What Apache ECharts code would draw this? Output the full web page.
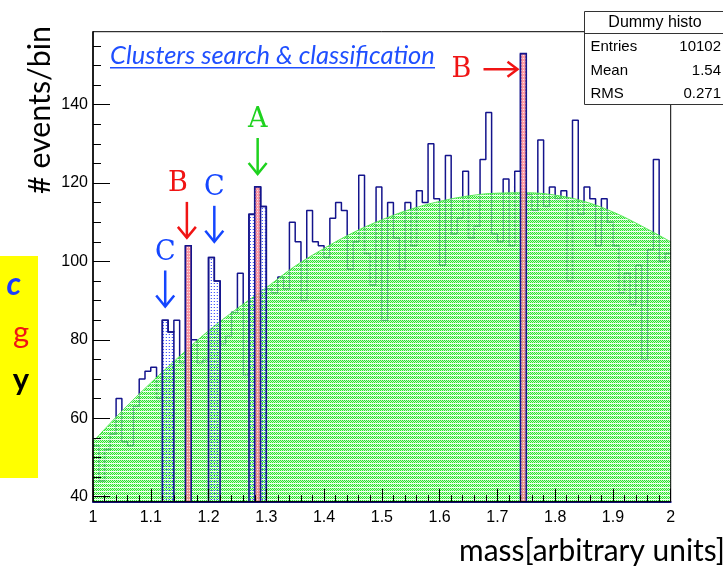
<!DOCTYPE html>
<html>
<head>
<meta charset="utf-8">
<script src="https://cdn.jsdelivr.net/npm/echarts@6/dist/echarts.min.js"></script>
<style>
  html, body { margin: 0; padding: 0; background: #ffffff; }
  #chart { width: 723px; height: 567px; }
</style>
</head>
<body>
<div id="chart"></div>
<script>
// ---- histogram: 100 bins of width 0.01 on [1, 2] ----
const binStart = 1.0;
const binWidth = 0.01;
const counts = [
  53, 44, 52, 56, 65, 54, 53, 63, 70, 72,
  73, 65, 85, 82, 85, 74, 104, 80, 74, 75,
  101, 95, 79, 81, 87, 97, 71, 112, 119, 114,
  93, 92, 96, 93, 110, 105, 90, 113, 105, 104,
  101, 111, 115, 113, 98, 105, 122, 102, 94, 119,
  85, 115, 106, 98, 115, 104, 118, 115, 130, 116,
  99, 127, 107, 111, 123, 106, 109, 126, 138, 107,
  105, 121, 104, 123, 153, 117, 113, 131, 114, 119,
  116, 118, 95, 136, 112, 119, 116, 104, 116, 110,
  104, 92, 97, 89, 99, 75, 103, 126, 100, 102
];

// ---- smooth background shape, sampled every 0.05 ----
const bgX = [1.00, 1.05, 1.10, 1.15, 1.20, 1.25, 1.30, 1.35, 1.40, 1.45, 1.50,
             1.55, 1.60, 1.65, 1.70, 1.75, 1.80, 1.85, 1.90, 1.95, 2.00];
const bgY = [54, 61.8, 69, 75.8, 82.3, 88, 93.3, 98.8, 103.3, 107.3, 110.6,
             113.3, 115.3, 116.7, 117.4, 117.5, 116.9, 115.3, 112.6, 109, 105];

// ---- axis ticks ----
const yTickValues = [40, 60, 80, 100, 120, 140];
const yMinorValues = [45, 50, 55, 65, 70, 75, 85, 90, 95, 105, 110, 115, 125, 130, 135, 145, 150, 155];

// ---- highlighted bins ----
const clusterBins = [[12, 13], [20, 21], [27, 29]];   // first and last bin of each cluster
const spikeBins = [16, 28, 74];

// ---- annotations (data coordinates of the arrow tips) ----
const annoLetters = ['C', 'B', 'C', 'A'];
const annoX = [1.125, 1.1625, 1.21, 1.285];
const annoTip = [88.5, 106, 105, 122.3];
const sideLetter = 'B';
const sideBin = 74;
const sideY = 149;

// ---- statistics box ----
const statTitle = 'Dummy histo';
const statNames = ['Entries', 'Mean', 'RMS'];
const statValues = ['10102', '1.54', '0.271'];

const titleText = 'Clusters search & classification';
const yTitle = '# events/bin';
const xTitle = 'mass[arbitrary units]';
const sideWords = ['c', 'g', 'y'];

// ---------------------------------------------------------------
const Y_MIN = 38.7, Y_MAX = 158.6;
const edge = i => +(binStart + i * binWidth).toFixed(4);

function makeTile(w, h, paint) {
  const c = document.createElement('canvas');
  c.width = w; c.height = h;
  paint(c.getContext('2d'));
  return c;
}
// green dotted texture with white horizontal rows
const greenTile = makeTile(4, 4, ctx => {
  ctx.fillStyle = 'rgba(165,248,165,0.6)';
  ctx.fillRect(0, 0, 4, 3);
  ctx.fillStyle = '#2ce42c';
  [[0,0],[2,0],[1,1],[3,1],[0,2],[2,2]].forEach(p => ctx.fillRect(p[0], p[1], 1, 1));
  ctx.fillStyle = 'rgba(255,255,255,0.95)';
  ctx.fillRect(0, 3, 1, 1); ctx.fillRect(2, 3, 1, 1);
  ctx.fillStyle = 'rgba(215,255,215,0.7)';
  ctx.fillRect(1, 3, 1, 1); ctx.fillRect(3, 3, 1, 1);
});
// blue dots on transparent
const dotTile = makeTile(3, 3, ctx => {
  ctx.fillStyle = 'rgba(40,60,255,0.85)';
  ctx.fillRect(1, 1, 1, 1);
  ctx.fillStyle = 'rgba(120,130,255,0.35)';
  ctx.fillRect(0, 1, 1, 1);
});
// pink hatch
const pinkTile = makeTile(2, 3, ctx => {
  ctx.fillStyle = 'rgba(255,130,140,0.8)';
  ctx.fillRect(0, 0, 2, 3);
  ctx.fillStyle = 'rgba(255,235,235,0.9)';
  ctx.fillRect(1, 1, 1, 1);
});

const histPts = counts.map((c, i) => [edge(i), c]);
histPts.push([edge(counts.length), counts[counts.length - 1]]);
const bgPts = bgX.map((x, i) => [x, bgY[i]]);

const NAVY = '#14148c';

function clusterPolygon(api, first, last) {
  const pts = [api.coord([edge(first), Y_MIN])];
  for (let b = first; b <= last; b++) {
    pts.push(api.coord([edge(b), counts[b]]));
    pts.push(api.coord([edge(b + 1), counts[b]]));
  }
  pts.push(api.coord([edge(last + 1), Y_MIN]));
  return pts;
}

const chart = echarts.init(document.getElementById('chart'), null, { renderer: 'canvas' });

const option = {
  animation: false,
  backgroundColor: '#ffffff',
  grid: { left: 93, right: 52.3, top: 31.7, bottom: 65.3, show: true,
          borderColor: '#000', borderWidth: 1, backgroundColor: 'transparent', z: 10 },
  xAxis: {
    type: 'value', min: 1, max: 2, interval: 0.1, z: 8,
    axisLine: { onZero: false, lineStyle: { color: NAVY, width: 2 } },
    axisTick: { inside: true, length: 13, lineStyle: { color: '#000', width: 1 } },
    minorTick: { show: true, splitNumber: 5, length: 6.5, lineStyle: { color: '#000', width: 1 } },
    splitLine: { show: false }, minorSplitLine: { show: false },
    axisLabel: { color: '#000', fontFamily: 'Liberation Sans', fontSize: 16, margin: 8 }
  },
  yAxis: [
    {
      type: 'value', min: Y_MIN, max: Y_MAX, z: 8,
      axisLine: { lineStyle: { color: '#000', width: 1.5 } },
      axisTick: { inside: true, length: 17, customValues: yTickValues, lineStyle: { color: '#000', width: 1 } },
      splitLine: { show: false },
      axisLabel: { customValues: yTickValues, color: '#000', fontFamily: 'Liberation Sans', fontSize: 16, margin: 5 }
    },
    {
      type: 'value', min: Y_MIN, max: Y_MAX, position: 'left', z: 8,
      axisLine: { show: false },
      axisTick: { inside: true, length: 8, customValues: yMinorValues, lineStyle: { color: '#000', width: 1 } },
      splitLine: { show: false },
      axisLabel: { show: false }
    }
  ],
  series: [
    {
      type: 'line', name: 'histogram', step: 'end', data: histPts, symbol: 'none', z: 1,
      lineStyle: { color: NAVY, width: 1.5 }
    },
    {
      type: 'line', name: 'background', smooth: 0.4, data: bgPts, symbol: 'none', z: 2,
      lineStyle: { color: '#55e855', width: 1 },
      areaStyle: { origin: 'start', color: { image: greenTile, repeat: 'repeat' }, opacity: 1 }
    },
    {
      type: 'custom', name: 'clusters', z: 3,
      data: clusterBins.map(c => [edge(c[0]), counts[c[0]]]),
      encode: { x: 0, y: 1 },
      renderItem: (params, api) => {
        const c = clusterBins[params.dataIndex];
        return {
          type: 'polygon',
          shape: { points: clusterPolygon(api, c[0], c[1]) },
          style: { fill: { image: dotTile, repeat: 'repeat' }, stroke: NAVY, lineWidth: 1.6 }
        };
      }
    },
    {
      type: 'custom', name: 'spikes', z: 4,
      data: spikeBins.map(b => [edge(b), counts[b]]),
      encode: { x: 0, y: 1 },
      renderItem: (params, api) => {
        const b = spikeBins[params.dataIndex];
        return {
          type: 'polygon',
          shape: { points: clusterPolygon(api, b, b) },
          style: { fill: { image: pinkTile, repeat: 'repeat' }, stroke: NAVY, lineWidth: 1.6 }
        };
      }
    }
  ]
};
chart.setOption(option);

// ---- annotations, stats box, titles ----
const px = (x, y) => chart.convertToPixel({ xAxisIndex: 0, yAxisIndex: 0 }, [x, y]);
const letterColor = { A: '#1ed21e', B: '#f01414', C: '#1446ff' };
const letterFont = 'normal 27px "DejaVu Serif"';
const letterShift = { 1: -9 };   // the B label sits left of its arrow
const graphics = [];
const measureCtx = document.createElement('canvas').getContext('2d');
function fitSize(text, family, style, base, target) {
  measureCtx.font = style + ' ' + base + 'px ' + family;
  return base * target / measureCtx.measureText(text).width;
}

annoLetters.forEach((L, i) => {
  const tip = px(annoX[i], annoTip[i]);
  const col = letterColor[L];
  graphics.push({
    type: 'text', z: 20,
    style: { x: tip[0] + (letterShift[i] || 0), y: tip[1] - 54, text: L, font: letterFont,
             fill: col, align: 'center', verticalAlign: 'middle' }
  });
  graphics.push({
    type: 'polyline', z: 20,
    shape: { points: [[tip[0], tip[1] - 36], [tip[0], tip[1]]] },
    style: { stroke: col, lineWidth: 2.5, fill: null }
  });
  graphics.push({
    type: 'polyline', z: 20,
    shape: { points: [[tip[0] - 9, tip[1] - 11], [tip[0], tip[1]], [tip[0] + 9, tip[1] - 11]] },
    style: { stroke: col, lineWidth: 2.5, fill: null }
  });
});

// side arrow pointing at the tall bin
(function () {
  const tip = px(edge(sideBin), sideY);
  const tx = tip[0] - 3, ty = tip[1];
  const col = letterColor[sideLetter];
  graphics.push({ type: 'text', z: 20,
    style: { x: tx - 56, y: ty + 1, text: sideLetter, font: letterFont, fill: col, align: 'center', verticalAlign: 'middle' } });
  graphics.push({ type: 'polyline', z: 20, shape: { points: [[tx - 34, ty], [tx, ty]] },
    style: { stroke: col, lineWidth: 2.5, fill: null } });
  graphics.push({ type: 'polyline', z: 20, shape: { points: [[tx - 10, ty - 7.5], [tx, ty], [tx - 10, ty + 7.5]] },
    style: { stroke: col, lineWidth: 2.5, fill: null } });
})();

// title with underline
(function () {
  const size = fitSize(titleText, 'Lato', 'italic', 21, 325);
  graphics.push({ type: 'text', z: 20,
    style: { x: 110, y: 55.5, text: titleText, font: 'italic ' + size.toFixed(2) + 'px Lato',
             fill: '#1f4fff', align: 'left', verticalAlign: 'middle' } });
  graphics.push({ type: 'line', z: 20, shape: { x1: 110, y1: 67.7, x2: 435, y2: 67.7 },
    style: { stroke: '#1f4fff', lineWidth: 1.5 } });
})();

// statistics box
graphics.push({ type: 'rect', z: 30, shape: { x: 584.5, y: 11.5, width: 160, height: 93 },
  style: { fill: '#fff', stroke: '#333', lineWidth: 1 } });
graphics.push({ type: 'line', z: 31, shape: { x1: 584.5, y1: 33.5, x2: 723, y2: 33.5 },
  style: { stroke: '#333', lineWidth: 1 } });
graphics.push({ type: 'text', z: 31,
  style: { x: 655, y: 22.5, text: statTitle, font: '16px "Liberation Sans"', fill: '#000', align: 'center', verticalAlign: 'middle' } });
statNames.forEach((n, i) => {
  const y = 47 + i * 23.6;
  graphics.push({ type: 'text', z: 31,
    style: { x: 590.5, y: y, text: n, font: '15px "Liberation Sans"', fill: '#000', align: 'left', verticalAlign: 'middle' } });
  graphics.push({ type: 'text', z: 31,
    style: { x: 721, y: y, text: statValues[i], font: '15px "Liberation Sans"', fill: '#000', align: 'right', verticalAlign: 'middle' } });
});

// axis titles
const yTitleSize = fitSize(yTitle, 'Lato', 'normal', 25, 168);
graphics.push({ type: 'text', z: 20, x: 40, y: 110, rotation: Math.PI / 2,
  style: { x: 0, y: 0, text: yTitle, font: yTitleSize.toFixed(2) + 'px Lato', fill: '#000', align: 'center', verticalAlign: 'middle' } });
const xTitleSize = fitSize(xTitle, 'Lato', 'normal', 25, 266);
graphics.push({ type: 'text', z: 20,
  style: { x: 725, y: 551, text: xTitle, font: xTitleSize.toFixed(2) + 'px Lato', fill: '#000', align: 'right', verticalAlign: 'middle' } });

// yellow note at the left edge
graphics.push({ type: 'rect', z: 20, shape: { x: 0, y: 256, width: 38, height: 222 }, style: { fill: '#ffff00' } });
graphics.push({ type: 'text', z: 21,
  style: { x: 21, y: 285, text: sideWords[0], font: 'italic bold 32px Lato', fill: '#1a3cff', align: 'right', verticalAlign: 'middle' } });
graphics.push({ type: 'text', z: 21,
  style: { x: 29, y: 333, text: sideWords[1], font: 'normal 31px Lato', fill: '#f01414', align: 'right', verticalAlign: 'middle' } });
graphics.push({ type: 'text', z: 21,
  style: { x: 29, y: 380, text: sideWords[2], font: 'bold 31px Lato', fill: '#000', align: 'right', verticalAlign: 'middle' } });

chart.setOption({ graphic: graphics });
</script>
</body>
</html>
